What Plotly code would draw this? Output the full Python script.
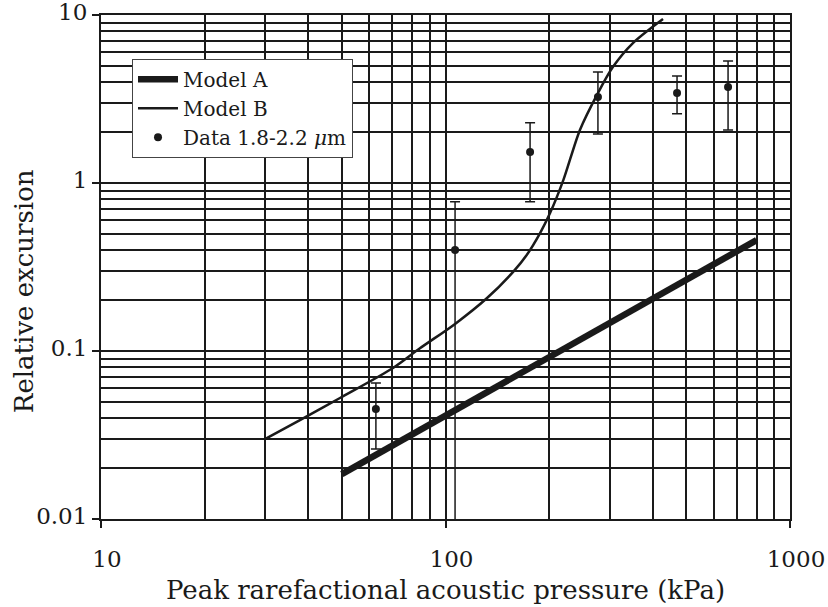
import plotly.graph_objects as go

# ---- data ----
model_a_x = [50, 100, 200, 400, 800]
model_a_y = [0.0185, 0.041, 0.092, 0.204, 0.457]

model_b_x = [30, 37.8, 49.4, 70.4, 84.3, 106.6, 131.8, 157.4, 172.1, 188, 201, 219.8, 245.6, 277, 306, 350, 428]
model_b_y = [0.03, 0.0388, 0.0525, 0.0792, 0.1038, 0.145, 0.206, 0.297, 0.373, 0.502, 0.66, 1.04, 2.07, 3.43, 4.9, 6.81, 9.47]

data_x = [62.8, 106.6, 176, 277, 470, 661]
data_y = [0.0452, 0.399, 1.53, 3.25, 3.43, 3.73]
data_hi = [0.0645, 0.774, 2.28, 4.58, 4.33, 5.32]
data_lo = [0.0261, 0.0079, 0.774, 1.96, 2.58, 2.07]

x_major = [10, 100, 1000]
x_major_labels = ["10", "100", "1000"]
y_major = [0.01, 0.1, 1, 10]
y_major_labels = ["0.01", "0.1", "1", "10"]

x_minor = [m * d for d in (10, 100) for m in range(2, 10)]
y_minor = [m * d for d in (0.01, 0.1, 1) for m in range(2, 10)]

err_plus = [h - y for h, y in zip(data_hi, data_y)]
err_minus = [y - l for y, l in zip(data_y, data_lo)]

FONT = "DejaVu Serif"
INK = "#1a1a1a"

fig = go.Figure()
fig.add_trace(go.Scatter(
    x=model_a_x, y=model_a_y, mode="lines", name="Model A",
    line=dict(color=INK, width=6.5),
))
fig.add_trace(go.Scatter(
    x=model_b_x, y=model_b_y, mode="lines", name="Model B",
    line=dict(color=INK, width=2.5, shape="spline", smoothing=0.8),
))
fig.add_trace(go.Scatter(
    x=data_x, y=data_y, mode="markers", name="Data 1.8-2.2 <i>μ</i>m",
    marker=dict(color=INK, size=8),
    error_y=dict(type="data", array=err_plus, arrayminus=err_minus,
                 color=INK, thickness=1.5, width=5),
    cliponaxis=False,
))

axis_common = dict(
    type="log", automargin=False,
    showline=True, linecolor=INK, linewidth=2, mirror=True,
    showgrid=True, gridcolor=INK, gridwidth=1.5,
    ticks="outside", ticklen=7, tickwidth=1.5, tickcolor=INK,
    tickfont=dict(family=FONT, size=23, color=INK),
    ticklabeloverflow="allow",
    zeroline=False,
)

fig.update_xaxes(
    **axis_common,
    range=[1, 3],
    tickmode="array", tickvals=x_major, ticktext=x_major_labels,
    ticklabelstandoff=11, ticklabelshift=6,
    minor=dict(tickmode="array", tickvals=x_minor, showgrid=True,
               gridcolor=INK, gridwidth=1.5, ticks=""),
    title=dict(text="Peak rarefactional acoustic pressure (kPa)",
               font=dict(family=FONT, size=26, color=INK), standoff=10),
)
fig.update_yaxes(
    **axis_common,
    range=[-2, 1],
    tickmode="array", tickvals=y_major, ticktext=y_major_labels,
    ticklabelshift=-3,
    minor=dict(tickmode="array", tickvals=y_minor, showgrid=True,
               gridcolor=INK, gridwidth=1.5, ticks=""),
)

fig.add_annotation(
    text="Relative excursion", textangle=-90,
    xref="paper", yref="paper", x=-0.1118, y=0.452,
    xanchor="center", yanchor="middle", showarrow=False,
    font=dict(family=FONT, size=26, color=INK),
)

fig.update_layout(
    width=828, height=607,
    margin=dict(l=101, r=38, t=15, b=88, autoexpand=False),
    paper_bgcolor="white", plot_bgcolor="white",
    font=dict(family=FONT, color=INK),
    showlegend=True,
    legend=dict(
        x=0.045, y=0.913, xanchor="left", yanchor="top",
        bgcolor="white", bordercolor="#444", borderwidth=1,
        font=dict(family=FONT, size=20, color=INK),
        itemwidth=40,
    ),
)

# remove the browser's default 8px body margin so the figure fills the window
fig.write_html("out.html", config={"displayModeBar": False},
               post_script="document.body.style.margin='0px';")
